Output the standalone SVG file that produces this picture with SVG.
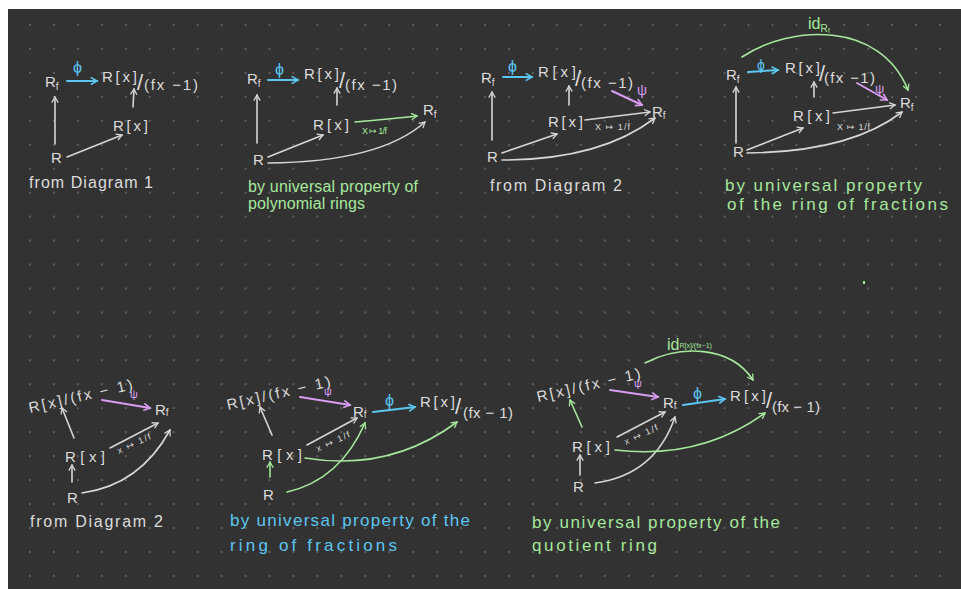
<svg xmlns="http://www.w3.org/2000/svg" width="961" height="589" viewBox="0 0 961 589">
<style>
text{font-family:"Liberation Sans","DejaVu Sans",sans-serif;}
.w{fill:#dcdcdc;font-size:15px;}
.g{fill:#a6e89c;}
.b{fill:#5cc6f2;}
.p{fill:#d89cf0;}
.sm{font-size:9px;}
.sub{font-size:10px;}
.sl{font-size:22px;}
.cw{fill:#dcdcdc;font-size:16px;}
.cap{font-size:16px;}
.ln{fill:none;stroke-width:1.6;stroke-linecap:round;}
.lw{stroke:#d6d6d6;}
.lb{stroke:#5cc6f2;stroke-width:2;}
.lg{stroke:#a6e89c;}
.lp{stroke:#d89cf0;stroke-width:2;}
</style>
<defs>
<pattern id="dots" x="18" y="13" width="23.95" height="23.95" patternUnits="userSpaceOnUse">
<rect x="11" y="11" width="2" height="2" fill="#5e5e5e"/>
</pattern>
<marker id="aw" viewBox="0 0 10 10" refX="8" refY="5" markerWidth="8" markerHeight="8" markerUnits="userSpaceOnUse" orient="auto"><path d="M1,1 L8,5 L1,9" fill="none" stroke="#d6d6d6" stroke-width="1.6"/></marker>
<marker id="ab" viewBox="0 0 10 10" refX="8" refY="5" markerWidth="9" markerHeight="9" markerUnits="userSpaceOnUse" orient="auto"><path d="M1,1 L8,5 L1,9" fill="none" stroke="#5cc6f2" stroke-width="1.8"/></marker>
<marker id="ag" viewBox="0 0 10 10" refX="8" refY="5" markerWidth="8" markerHeight="8" markerUnits="userSpaceOnUse" orient="auto"><path d="M1,1 L8,5 L1,9" fill="none" stroke="#a6e89c" stroke-width="1.6"/></marker>
<marker id="ap" viewBox="0 0 10 10" refX="8" refY="5" markerWidth="9" markerHeight="9" markerUnits="userSpaceOnUse" orient="auto"><path d="M1,1 L8,5 L1,9" fill="none" stroke="#d89cf0" stroke-width="1.8"/></marker>
</defs>
<rect x="0" y="0" width="961" height="589" fill="#ffffff"/>
<rect x="8" y="9" width="953" height="580" fill="#323232"/>
<rect x="8" y="9" width="953" height="580" fill="url(#dots)"/>
<rect x="863" y="281" width="2" height="3" fill="#a6e89c"/>

<g id="connectors">
<path class="ln lb" d="M67,81 L97,81" marker-end="url(#ab)"/>
<path class="ln lw" d="M133,107 L134,89" marker-end="url(#aw)"/>
<path class="ln lw" d="M55,144 L55,97" marker-end="url(#aw)"/>
<path class="ln lw" d="M67,157 L122,135" marker-end="url(#aw)"/>
<path class="ln lb" d="M268,80 L298,80" marker-end="url(#ab)"/>
<path class="ln lw" d="M337,105 L337,88" marker-end="url(#aw)"/>
<path class="ln lg" d="M355,122 Q390,119 417,116" marker-end="url(#ag)"/>
<path class="ln lw" d="M257,143 L257,95" marker-end="url(#aw)"/>
<path class="ln lw" d="M268,157 L323,135" marker-end="url(#aw)"/>
<path class="ln lw" d="M268,163 Q380,162 425,122" marker-end="url(#aw)"/>
<path class="ln lb" d="M503,77 L532,77" marker-end="url(#ab)"/>
<path class="ln lp" d="M612,91 L642,105" marker-end="url(#ap)"/>
<path class="ln lw" d="M569,105 L569,86" marker-end="url(#aw)"/>
<path class="ln lw" d="M585,120 L650,112" marker-end="url(#aw)"/>
<path class="ln lw" d="M492,140 L492,92" marker-end="url(#aw)"/>
<path class="ln lw" d="M502,153 L557,134" marker-end="url(#aw)"/>
<path class="ln lw" d="M502,160 Q600,160 655,118" marker-end="url(#aw)"/>
<path class="ln lg" d="M742,57 C790,25 880,20 908,90" marker-end="url(#ag)"/>
<path class="ln lb" d="M748,72 L778,70" marker-end="url(#ab)"/>
<path class="ln lp" d="M857,83 L887,100" marker-end="url(#ap)"/>
<path class="ln lw" d="M814,97 L814,82" marker-end="url(#aw)"/>
<path class="ln lw" d="M833,113 L895,105" marker-end="url(#aw)"/>
<path class="ln lw" d="M736,143 L736,87" marker-end="url(#aw)"/>
<path class="ln lw" d="M747,150 L803,128" marker-end="url(#aw)"/>
<path class="ln lw" d="M747,153 Q850,152 902,112" marker-end="url(#aw)"/>
<path class="ln lp" d="M102,400 L150,408" marker-end="url(#ap)"/>
<path class="ln lw" d="M74,438 L62,408" marker-end="url(#aw)"/>
<path class="ln lw" d="M110,448 L158,423" marker-end="url(#aw)"/>
<path class="ln lw" d="M72,482 L72,465" marker-end="url(#aw)"/>
<path class="ln lw" d="M82,493 Q140,485 170,430" marker-end="url(#aw)"/>
<path class="ln lp" d="M300,397 L350,405" marker-end="url(#ap)"/>
<path class="ln lb" d="M373,412 L415,407" marker-end="url(#ab)"/>
<path class="ln lw" d="M272,435 L260,407" marker-end="url(#aw)"/>
<path class="ln lw" d="M307,445 L357,418" marker-end="url(#aw)"/>
<path class="ln lg" d="M270,477 L270,462" marker-end="url(#ag)"/>
<path class="ln lg" d="M287,492 Q340,480 365,423" marker-end="url(#ag)"/>
<path class="ln lg" d="M305,458 Q390,472 457,422" marker-end="url(#ag)"/>
<path class="ln lg" d="M645,363 C680,345 730,345 753,380" marker-end="url(#ag)"/>
<path class="ln lp" d="M610,390 L658,397" marker-end="url(#ap)"/>
<path class="ln lb" d="M683,405 L725,399" marker-end="url(#ab)"/>
<path class="ln lg" d="M582,427 L570,400" marker-end="url(#ag)"/>
<path class="ln lw" d="M617,437 L665,412" marker-end="url(#aw)"/>
<path class="ln lw" d="M580,475 L580,455" marker-end="url(#aw)"/>
<path class="ln lw" d="M595,483 Q655,475 675,417" marker-end="url(#aw)"/>
<path class="ln lg" d="M615,450 Q700,460 765,413" marker-end="url(#ag)"/>
</g>

<!-- Panel 1 -->
<g id="p1-Rf"><text class="w" x="45" y="87">R<tspan class="sub" dy="3">f</tspan></text></g>
<g id="p1-phi"><text class="b" x="73" y="73" font-size="16">ϕ</text></g>
<g id="p1-Q"><text class="w" x="102" y="82" textLength="35">R[x]</text><text class="w sl" x="137" y="90">/</text><text class="w" x="144" y="90" textLength="54">(fx −1)</text></g>
<g id="p1-Rx"><text class="w" x="113" y="131" textLength="35">R[x]</text></g>
<g id="p1-R"><text class="w" x="51" y="163">R</text></g>
<g id="p1-caption"><text class="cw" x="29" y="188" textLength="124">from Diagram 1</text></g>

<!-- Panel 2 -->
<g id="p2-Rf"><text class="w" x="247" y="84">R<tspan class="sub" dy="3">f</tspan></text></g>
<g id="p2-phi"><text class="b" x="275" y="75" font-size="16">ϕ</text></g>
<g id="p2-Q"><text class="w" x="304" y="79" textLength="35">R[x]</text><text class="w sl" x="339" y="88">/</text><text class="w" x="345" y="90" textLength="52">(fx −1)</text></g>
<g id="p2-Rx"><text class="w" x="313" y="130" textLength="36">R[x]</text></g>
<g id="p2-lbl"><text class="g sm" x="362" y="134" textLength="25">X ↦ 1/f</text></g>
<g id="p2-Rf2"><text class="w" x="423" y="115">R<tspan class="sub" dy="3">f</tspan></text></g>
<g id="p2-R"><text class="w" x="253" y="165">R</text></g>
<g id="p2-caption"><text class="g cap" x="248" y="192" textLength="170">by universal property of</text><text class="g cap" x="248" y="209" textLength="117">polynomial rings</text></g>

<!-- Panel 3 -->
<g id="p3-Rf"><text class="w" x="481" y="83">R<tspan class="sub" dy="3">f</tspan></text></g>
<g id="p3-phi"><text class="b" x="508" y="72" font-size="16">ϕ</text></g>
<g id="p3-Q"><text class="w" x="538" y="77" textLength="38">R[x]</text><text class="w sl" x="575" y="86">/</text><text class="w" x="581" y="88" textLength="52">(fx −1)</text></g>
<g id="p3-psi"><text class="p" x="637" y="95" font-size="14">ψ</text></g>
<g id="p3-Rx"><text class="w" x="548" y="127" textLength="35">R[x]</text></g>
<g id="p3-lbl"><text class="w sm" x="595" y="130" textLength="35">X ↦ 1/f</text></g>
<g id="p3-Rf2"><text class="w" x="652" y="117">R<tspan class="sub" dy="2">f</tspan></text></g>
<g id="p3-R"><text class="w" x="487" y="162">R</text></g>
<g id="p3-caption"><text class="cw" x="490" y="191" textLength="132">from Diagram 2</text></g>

<!-- Panel 4 -->
<g id="p4-id"><text class="g" x="808" y="29" font-size="16">id<tspan font-size="10" dy="3">R</tspan><tspan font-size="7" dy="1">f</tspan></text></g>
<g id="p4-Rf"><text class="w" x="726" y="80">R<tspan class="sub" dy="3">f</tspan></text></g>
<g id="p4-phi"><text class="b" x="757" y="70" font-size="14">ϕ</text></g>
<g id="p4-Q"><text class="w" x="785" y="73" textLength="35">R[x]</text><text class="w sl" x="819" y="81">/</text><text class="w" x="824" y="83" textLength="51">(fx −1)</text></g>
<g id="p4-psi"><text class="p" x="875" y="93" font-size="13">ψ</text></g>
<g id="p4-Rx"><text class="w" x="793" y="121" textLength="37">R[x]</text></g>
<g id="p4-lbl"><text class="w sm" x="837" y="130" textLength="33">X ↦ 1/f</text></g>
<g id="p4-Rf2"><text class="w" x="900" y="108">R<tspan class="sub" dy="3">f</tspan></text></g>
<g id="p4-R"><text class="w" x="733" y="157">R</text></g>
<g id="p4-caption"><text class="g" font-size="17" x="725" y="191" textLength="197">by universal property</text><text class="g" font-size="17" x="727" y="210" textLength="221">of the ring of fractions</text></g>

<!-- Panel 5 -->
<g id="p5-Q"><text class="w" x="30" y="413" font-size="16" textLength="106" transform="rotate(-13 30 413)">R[x]/(fx − 1)</text></g>
<g id="p5-psi"><text class="p" x="130" y="398" font-size="11">ψ</text></g>
<g id="p5-Rf"><text class="w" x="155" y="415">R<tspan class="sub" dy="1">f</tspan></text></g>
<g id="p5-Rx"><text class="w" x="65" y="462" textLength="40">R[x]</text></g>
<g id="p5-lbl"><text class="w sm" x="119" y="454" textLength="36" transform="rotate(-25 119 454)">x ↦ 1/f</text></g>
<g id="p5-R"><text class="w" x="67" y="503">R</text></g>
<g id="p5-caption"><text class="cw" x="30" y="527" textLength="133">from Diagram 2</text></g>

<!-- Panel 6 -->
<g id="p6-Q"><text class="w" x="228" y="410" font-size="16" textLength="106" transform="rotate(-13 228 410)">R[x]/(fx − 1)</text></g>
<g id="p6-psi"><text class="p" x="324" y="395" font-size="11">ψ</text></g>
<g id="p6-Rf"><text class="w" x="353" y="417">R<tspan class="sub" dy="1">f</tspan></text></g>
<g id="p6-phi"><text class="b" x="385" y="406" font-size="16">ϕ</text></g>
<g id="p6-Q2"><text class="w" x="420" y="407" textLength="35">R[x]</text><text class="w sl" x="455" y="414">/</text><text class="w" x="463" y="418" textLength="50">(fx − 1)</text></g>
<g id="p6-Rx"><text class="w" x="262" y="460" textLength="40">R[x]</text></g>
<g id="p6-lbl"><text class="w sm" x="318" y="452" textLength="36" transform="rotate(-25 318 452)">x ↦ 1/f</text></g>
<g id="p6-R"><text class="w" x="263" y="500">R</text></g>
<g id="p6-caption"><text class="b" font-size="17" x="230" y="526" textLength="240">by universal property of the</text><text class="b" font-size="17" x="230" y="551" textLength="167">ring of fractions</text></g>

<!-- Panel 7 -->
<g id="p7-id"><text class="g" x="667" y="350" font-size="16">id<tspan font-size="7" dy="-2">R[x]/(fx−1)</tspan></text></g>
<g id="p7-Q"><text class="w" x="538" y="402" font-size="16" textLength="106" transform="rotate(-13 538 402)">R[x]/(fx − 1)</text></g>
<g id="p7-psi"><text class="p" x="634" y="387" font-size="11">ψ</text></g>
<g id="p7-Rf"><text class="w" x="663" y="408">R<tspan class="sub" dy="1">f</tspan></text></g>
<g id="p7-phi"><text class="b" x="693" y="399" font-size="16">ϕ</text></g>
<g id="p7-Q2"><text class="w" x="730" y="401" textLength="36">R[x]</text><text class="w sl" x="766" y="408">/</text><text class="w" x="772" y="412" textLength="48">(fx − 1)</text></g>
<g id="p7-Rx"><text class="w" x="572" y="452" textLength="38">R[x]</text></g>
<g id="p7-lbl"><text class="w sm" x="626" y="445" textLength="36" transform="rotate(-25 626 445)">x ↦ 1/f</text></g>
<g id="p7-R"><text class="w" x="573" y="492">R</text></g>
<g id="p7-caption"><text class="g" font-size="17" x="532" y="528" textLength="248">by universal property of the</text><text class="g" font-size="17" x="532" y="551" textLength="125">quotient ring</text></g>
</svg>
